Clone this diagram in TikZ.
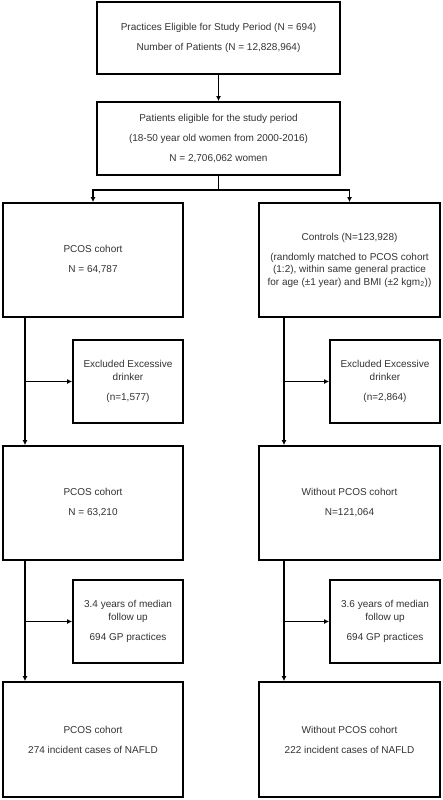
\documentclass[tikz,border=0pt]{standalone}
\usepackage{fontspec}
\setmainfont{Liberation Sans}
\usetikzlibrary{arrows.meta}
\begin{document}
\begin{tikzpicture}[x=1pt,y=-1pt,
  box/.style={draw=black,line width=1.8pt,fill=white,align=center,inner sep=2pt,
    font=\fontsize{10}{12.5}\selectfont,text=black!80},
  conn/.style={line width=1.6pt,-{Latex[length=5pt,width=5pt]}}]
\useasboundingbox (0,0) rectangle (442,800);
\node[box,minimum width=243pt,minimum height=72pt] (top) at (218.5,38)
  {Practices Eligible for Study Period (N = 694)\\[7.5pt]Number of Patients (N = 12,828,964)};
\node[box,minimum width=243pt,minimum height=73pt] (elig) at (218.5,138.5)
  {Patients eligible for the study period\\[7.5pt](18-50 year old women from 2000-2016)\\[7.5pt]N = 2,706,062 women};
\node[box,minimum width=180pt,minimum height=114pt] (pcosA) at (93,260)
  {PCOS cohort\\[7.5pt]N = 64,787};
\node[box,minimum width=181pt,minimum height=114pt] (ctrl) at (349.5,260)
  {Controls (N=123,928)\\[7.5pt](randomly matched to PCOS cohort\\(1:2), within same general practice\\for age (±1 year) and BMI (±2 kgm\textsubscript{2}))};
\node[box,minimum width=110pt,minimum height=83pt] (exclA) at (128,381.5)
  {Excluded Excessive\\drinker\\[7.5pt](n=1,577)};
\node[box,minimum width=110pt,minimum height=83pt] (exclB) at (385,381.5)
  {Excluded Excessive\\drinker\\[7.5pt](n=2,864)};
\node[box,minimum width=180pt,minimum height=114pt] (pcosB) at (93,503)
  {PCOS cohort\\[7.5pt]N = 63,210};
\node[box,minimum width=181pt,minimum height=114pt] (woB) at (349.5,503)
  {Without PCOS cohort\\[7.5pt]N=121,064};
\node[box,minimum width=110pt,minimum height=83pt] (fuA) at (128,621.5)
  {3.4 years of median\\follow up\\[7.5pt]694 GP practices};
\node[box,minimum width=110pt,minimum height=83pt] (fuB) at (385,621.5)
  {3.6 years of median\\follow up\\[7.5pt]694 GP practices};
\node[box,minimum width=180pt,minimum height=115pt] (pcosC) at (93,739.5)
  {PCOS cohort\\[7.5pt]274 incident cases of NAFLD};
\node[box,minimum width=181pt,minimum height=115pt] (woC) at (349.5,739.5)
  {Without PCOS cohort\\[7.5pt]222 incident cases of NAFLD};
\coordinate (split) at (218.5,190);
\coordinate (lx) at (25,0);
\coordinate (rx) at (284,0);
\draw[conn] (top) -- (elig);
\draw[line width=1.6pt] (elig.south) -- (split);
\draw[conn] (split) -| (pcosA.north);
\draw[conn] (split) -| (ctrl.north);
\draw[conn] (pcosA.south -| lx) -- (pcosB.north -| lx);
\draw[conn] (exclA.west -| lx) -- (exclA.west);
\draw[conn] (ctrl.south -| rx) -- (woB.north -| rx);
\draw[conn] (exclB.west -| rx) -- (exclB.west);
\draw[conn] (pcosB.south -| lx) -- (pcosC.north -| lx);
\draw[conn] (fuA.west -| lx) -- (fuA.west);
\draw[conn] (woB.south -| rx) -- (woC.north -| rx);
\draw[conn] (fuB.west -| rx) -- (fuB.west);
\end{tikzpicture}
\end{document}
